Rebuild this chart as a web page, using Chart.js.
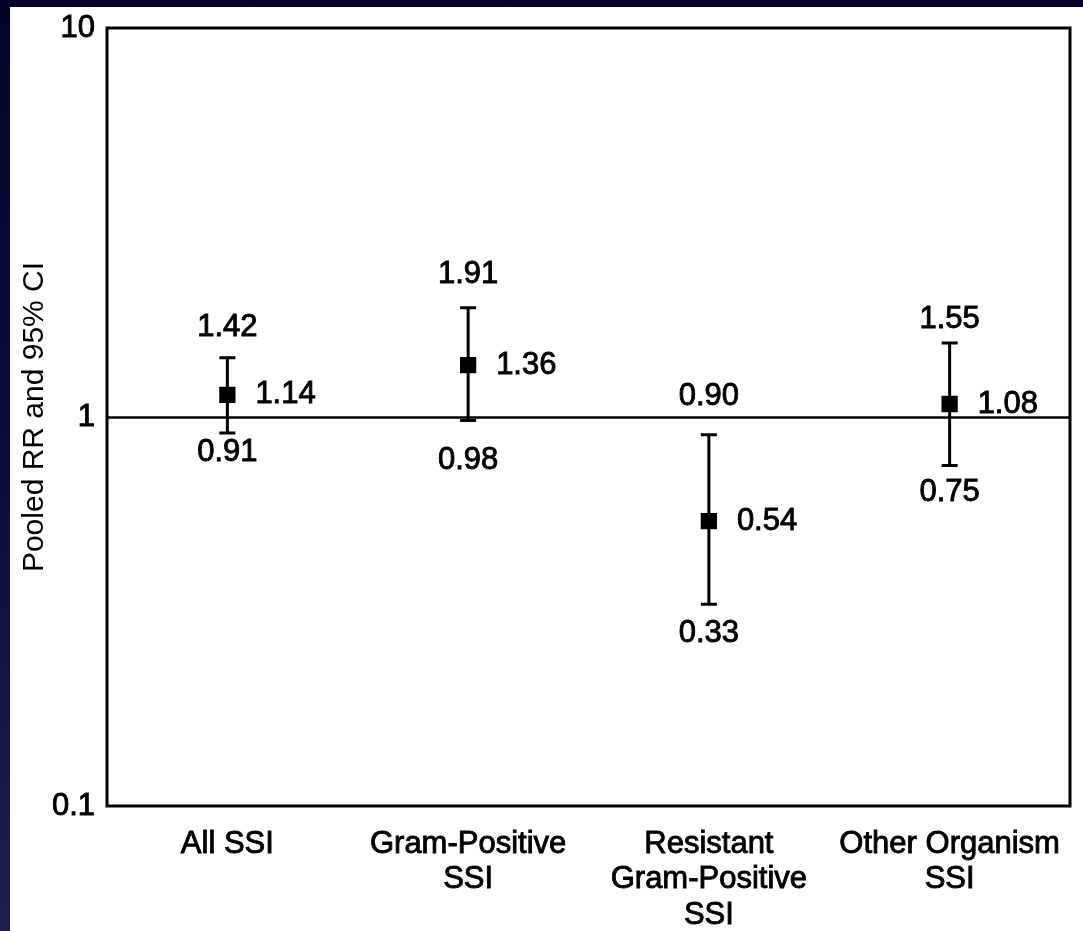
<!DOCTYPE html>
<html>
<head>
<meta charset="utf-8">
<script src="https://cdn.jsdelivr.net/npm/chart.js@4/dist/chart.umd.min.js"></script>
<style>
  html, body { margin: 0; padding: 0; width: 1083px; height: 931px; overflow: hidden; }
  body { background: linear-gradient(to bottom, #03032a 0%, #0d0c3a 50%, #1f1e4e 100%); position: relative; }
  #panel { position: absolute; left: 10px; top: 7px; width: 1073px; height: 924px; background: #ffffff; }
  #c { display: block; }
</style>
</head>
<body>
<div id="panel"><canvas id="c" width="1073" height="924"></canvas></div>
<script>
// ---- data ----
const categories = [
  ["All SSI"],
  ["Gram-Positive", "SSI"],
  ["Resistant", "Gram-Positive", "SSI"],
  ["Other Organism", "SSI"]
];
const pooledRR = [1.14, 1.36, 0.54, 1.08];
const ciUpper  = [1.42, 1.91, 0.90, 1.55];
const ciLower  = [0.91, 0.98, 0.33, 0.75];
const yTickValues = [0.1, 1, 10];
const yTickLabels = ["0.1", "1", "10"];
const yTitle = "Pooled RR and 95% CI";

const FONT = '"Liberation Sans", Arial, Helvetica, sans-serif';
const FS = 31;
const STROKE = 0.9;

// label placement styles (pixel offsets from whisker ends)
const upperLabelGap = [30, 33, 38, 24];
const lowerLabelGap = [20, 40, 29, 27];

const fmt = v => v.toFixed(2);

function boldText(ctx, t, x, y) {
  ctx.strokeText(t, x, y);
  ctx.fillText(t, x, y);
}

const errorBarPlugin = {
  id: 'errorBars',
  beforeDatasetsDraw(chart) {
    const {ctx, chartArea: a, scales: {x, y}} = chart;
    ctx.save();
    const y1 = Math.round(y.getPixelForValue(1)) + 0.5;
    ctx.strokeStyle = '#000';
    ctx.lineWidth = 2.5;
    ctx.beginPath();
    ctx.moveTo(a.left, y1);
    ctx.lineTo(a.right, y1);
    ctx.stroke();
    ctx.lineWidth = 3;
    for (let i = 0; i < pooledRR.length; i++) {
      const px = x.getPixelForValue(i);
      const yu = y.getPixelForValue(ciUpper[i]);
      const yl = y.getPixelForValue(ciLower[i]);
      ctx.beginPath();
      ctx.moveTo(px, yu); ctx.lineTo(px, yl);
      ctx.moveTo(px - 8, yu); ctx.lineTo(px + 8, yu);
      ctx.moveTo(px - 8, yl); ctx.lineTo(px + 8, yl);
      ctx.stroke();
    }
    ctx.restore();
  },
  afterDatasetsDraw(chart) {
    const {ctx, chartArea: a, scales: {x, y}} = chart;
    ctx.save();
    ctx.fillStyle = '#000';
    ctx.strokeStyle = '#000';
    ctx.lineWidth = STROKE;
    ctx.font = FS + 'px ' + FONT;
    ctx.textBaseline = 'middle';
    for (let i = 0; i < pooledRR.length; i++) {
      const px = x.getPixelForValue(i);
      const yu = y.getPixelForValue(ciUpper[i]);
      const yl = y.getPixelForValue(ciLower[i]);
      const ym = y.getPixelForValue(pooledRR[i]);
      ctx.textAlign = 'center';
      boldText(ctx, fmt(ciUpper[i]), px, yu - upperLabelGap[i]);
      boldText(ctx, fmt(ciLower[i]), px, yl + lowerLabelGap[i]);
      ctx.textAlign = 'left';
      boldText(ctx, fmt(pooledRR[i]), px + 28, ym);
    }
    ctx.lineWidth = 3;
    ctx.strokeRect(a.left, a.top, a.right - a.left, a.bottom - a.top);
    ctx.restore();
  }
};

new Chart(document.getElementById('c'), {
  type: 'line',
  data: {
    labels: categories,
    datasets: [{
      label: 'Pooled RR',
      data: pooledRR,
      showLine: false,
      pointStyle: 'rect',
      pointRadius: 11.5,
      pointHoverRadius: 11.5,
      backgroundColor: '#000',
      borderColor: '#000',
      borderWidth: 0
    }]
  },
  options: {
    responsive: false,
    animation: false,
    events: [],
    layout: { padding: { left: 0, right: 13, top: 21, bottom: 0 } },
    plugins: { legend: { display: false }, tooltip: { enabled: false } },
    scales: {
      x: {
        type: 'category',
        offset: true,
        grid: { display: false, drawTicks: false },
        border: { display: false },
        ticks: {
          color: '#000',
          font: { family: FONT, size: FS, lineHeight: 1.16 },
          textStrokeColor: '#000',
          textStrokeWidth: STROKE,
          padding: 20,
          maxRotation: 0,
          autoSkip: false
        },
        afterFit(s) { s.height = 125; s.paddingLeft = 0; s.paddingRight = 0; }
      },
      y: {
        type: 'logarithmic',
        min: 0.1,
        max: 10,
        grid: { display: false, drawTicks: false },
        border: { display: false },
        afterBuildTicks(s) { s.ticks = yTickValues.map(v => ({ value: v })); },
        ticks: {
          color: '#000',
          font: { family: FONT, size: FS },
          textStrokeColor: '#000',
          textStrokeWidth: STROKE,
          padding: 12,
          callback(v) {
            const k = yTickValues.findIndex(t => Math.abs(t - v) < 1e-9);
            return k >= 0 ? yTickLabels[k] : '';
          }
        },
        title: {
          display: true,
          text: yTitle,
          color: '#000',
          font: { family: FONT, size: 30 },
          padding: { top: 7, bottom: 0 }
        },
        afterFit(s) { s.width = 97; s.paddingTop = 0; s.paddingBottom = 0; }
      }
    }
  },
  plugins: [errorBarPlugin]
});
</script>
</body>
</html>
